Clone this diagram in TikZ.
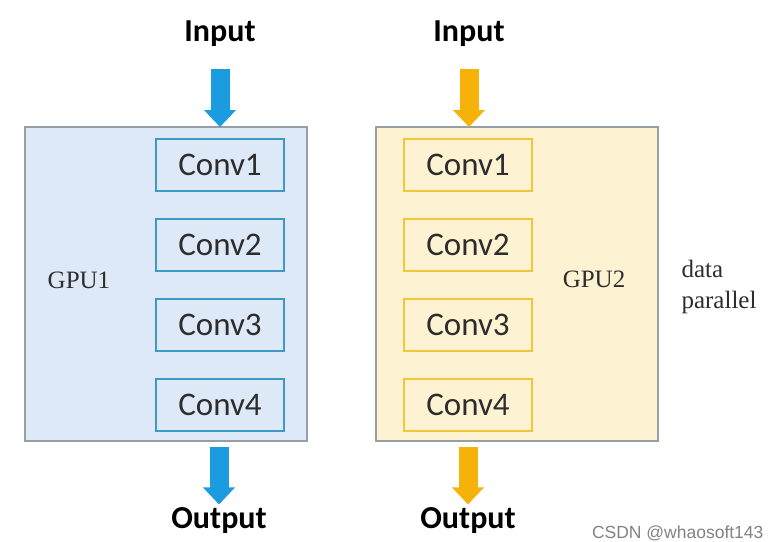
\documentclass[tikz,border=0pt]{standalone}
\usepackage{fontspec}
\setmainfont{Liberation Serif}
\setsansfont{Carlito}
\newfontfamily\markfont{Liberation Sans}
\usetikzlibrary{arrows.meta}
\definecolor{panelgray}{RGB}{150,158,166}
\definecolor{textgray}{RGB}{45,45,45}
\definecolor{fillblue}{RGB}{221,233,246}
\definecolor{edgeblue}{RGB}{62,152,200}
\definecolor{arrowblue}{RGB}{28,156,224}
\definecolor{fillyellow}{RGB}{253,242,209}
\definecolor{edgeyellow}{RGB}{240,198,60}
\definecolor{arroworange}{RGB}{246,178,8}
\definecolor{markgray}{RGB}{130,130,130}
\begin{document}
\begin{tikzpicture}
        [
            x=1pt, y=-1pt,
            gpu/.style = {draw=panelgray, line width=1.2pt, minimum width=282pt, minimum height=314pt, inner sep=0pt, outer sep=0pt},
            conv/.style = {draw, line width=1.6pt, minimum width=128pt, minimum height=52pt, inner sep=0pt, outer sep=0pt, text=textgray, font=\sffamily\fontsize{33}{38}\selectfont},
            gpuname/.style = {text=textgray, font=\fontsize{25}{31}\selectfont},
            io/.style = {font=\sffamily\bfseries\fontsize{32}{38}\selectfont},
            flow/.style = {line width=19pt, -{Triangle[width=31pt,length=17pt]}},
        ]
        \useasboundingbox (0,0) rectangle (770,541);
        \node [gpu, fill=fillblue] (gpu1) at (166,284) {};
        \node [gpu, fill=fillyellow] (gpu2) at (517,284) {};
        \node [conv, draw=edgeblue, fill=fillblue] (c11) at (220,165) {Conv1};
        \node [conv, draw=edgeblue, fill=fillblue] (c12) at (220,245) {Conv2};
        \node [conv, draw=edgeblue, fill=fillblue] (c13) at (220,325) {Conv3};
        \node [conv, draw=edgeblue, fill=fillblue] (c14) at (220,405) {Conv4};
        \node [conv, draw=edgeyellow, fill=fillyellow] (c21) at (468,165) {Conv1};
        \node [conv, draw=edgeyellow, fill=fillyellow] (c22) at (468,245) {Conv2};
        \node [conv, draw=edgeyellow, fill=fillyellow] (c23) at (468,325) {Conv3};
        \node [conv, draw=edgeyellow, fill=fillyellow] (c24) at (468,405) {Conv4};
        \node [gpuname] (g1) at (79,280) {GPU1};
        \node [gpuname] (g2) at (594,279) {GPU2};
        \node [gpuname, anchor=west, align=left] (dp) at (678,287) {data\\parallel};
        \node [io] (in1) at (220,34) {Input};
        \node [io] (in2) at (469,34) {Input};
        \node [io] (out1) at (219,521) {Output};
        \node [io] (out2) at (468,521) {Output};
        \node [anchor=east, text=markgray, font=\markfont\fontsize{17.5}{20}\selectfont] (mark) at (767,533) {CSDN @whaosoft143};
        \draw[flow, arrowblue, shorten <=19pt] (in1.south) -- (in1.south |- gpu1.north);
        \draw[flow, arroworange, shorten <=19pt] (in2.south) -- (in2.south |- gpu2.north);
        \draw[flow, arrowblue, shorten <=6pt] (gpu1.south -| out1) -- (out1.north);
        \draw[flow, arroworange, shorten <=6pt] (gpu2.south -| out2) -- (out2.north);
    \end{tikzpicture}
\end{document}
